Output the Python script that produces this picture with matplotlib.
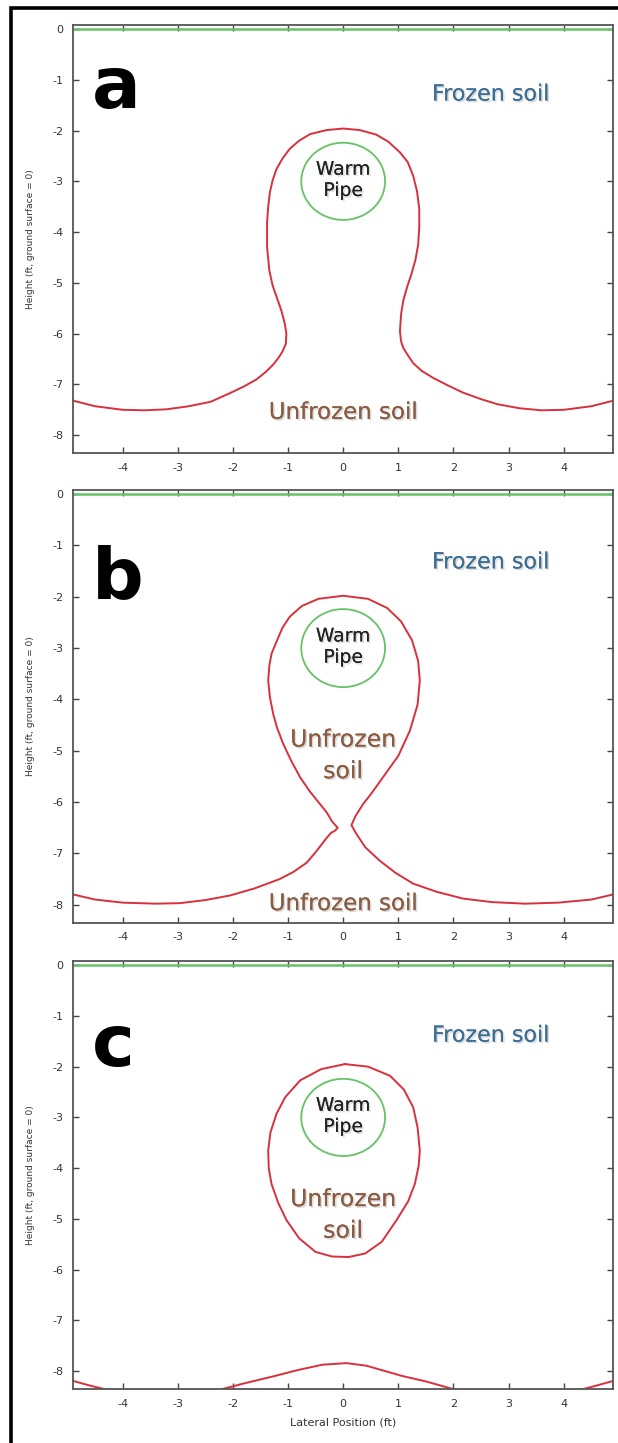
import matplotlib
matplotlib.use("Agg")
import matplotlib.pyplot as plt
import matplotlib.patheffects as pe
from matplotlib.patches import Circle, Rectangle

plt.rcParams["axes.unicode_minus"] = False


# Freeze front traced from the three model snapshots (ft)

freeze_a = [(-5.0, -7.29), (-4.9, -7.32), (-4.5, -7.43), (-4.0, -7.5), (-3.6, -7.51),
            (-3.2, -7.49), (-2.8, -7.43), (-2.4, -7.34), (-2.05, -7.17), (-1.8, -7.04),
            (-1.57, -6.9), (-1.4, -6.75), (-1.27, -6.61), (-1.17, -6.47), (-1.1, -6.35),
            (-1.04, -6.2), (-1.03, -6.0), (-1.06, -5.8), (-1.12, -5.55), (-1.2, -5.3),
            (-1.28, -5.05), (-1.34, -4.75), (-1.38, -4.3), (-1.38, -3.8), (-1.36, -3.5),
            (-1.33, -3.22), (-1.28, -2.98), (-1.21, -2.76), (-1.1, -2.55), (-0.97, -2.36),
            (-0.8, -2.2), (-0.6, -2.07), (-0.3, -1.99), (0.0, -1.96), (0.3, -1.99),
            (0.6, -2.08), (0.82, -2.22), (1.03, -2.43), (1.17, -2.62), (1.27, -2.89),
            (1.34, -3.2), (1.38, -3.54), (1.38, -3.9), (1.36, -4.25), (1.31, -4.55),
            (1.24, -4.82), (1.16, -5.08), (1.09, -5.35), (1.05, -5.62), (1.03, -5.95),
            (1.05, -6.15), (1.09, -6.28), (1.17, -6.42), (1.27, -6.58), (1.42, -6.73),
            (1.63, -6.87), (1.9, -7.02), (2.17, -7.16), (2.5, -7.29), (2.8, -7.39),
            (3.2, -7.47), (3.6, -7.51), (4.0, -7.5), (4.5, -7.43), (4.9, -7.32), (5.0, -7.29)]

freeze_b = [(-5.0, -7.78), (-4.9, -7.8), (-4.5, -7.9), (-4.0, -7.96), (-3.4, -7.98),
            (-2.96, -7.97), (-2.5, -7.91), (-2.05, -7.82), (-1.6, -7.68), (-1.15, -7.5),
            (-0.9, -7.36), (-0.66, -7.18), (-0.48, -6.95), (-0.3, -6.7), (-0.22, -6.6),
            (-0.15, -6.56), (-0.1, -6.5), (-0.15, -6.44), (-0.2, -6.38), (-0.3, -6.2),
            (-0.42, -6.04), (-0.6, -5.8), (-0.78, -5.52), (-0.95, -5.18), (-1.09, -4.86),
            (-1.2, -4.55), (-1.27, -4.28), (-1.33, -3.95), (-1.36, -3.63), (-1.34, -3.35),
            (-1.3, -3.11), (-1.2, -2.85), (-1.1, -2.6), (-0.97, -2.39), (-0.75, -2.18),
            (-0.45, -2.04), (0.0, -1.98), (0.45, -2.04), (0.8, -2.22), (1.05, -2.48),
            (1.25, -2.85), (1.36, -3.25), (1.39, -3.63), (1.35, -4.1), (1.21, -4.61),
            (1.0, -5.1), (0.72, -5.52), (0.5, -5.85), (0.36, -6.04), (0.22, -6.28),
            (0.15, -6.45), (0.24, -6.62), (0.4, -6.88), (0.66, -7.14), (0.95, -7.38),
            (1.27, -7.59), (1.7, -7.75), (2.17, -7.88), (2.7, -7.95), (3.3, -7.98),
            (3.9, -7.96), (4.5, -7.9), (4.9, -7.8), (5.0, -7.77)]

bulb_c = [(0.03, -1.95), (-0.4, -2.05), (-0.78, -2.27), (-1.05, -2.6), (-1.21, -2.93),
          (-1.32, -3.3), (-1.36, -3.65), (-1.35, -4.0), (-1.3, -4.31), (-1.18, -4.68),
          (-1.03, -5.02), (-0.8, -5.38), (-0.5, -5.65), (-0.2, -5.74), (0.1, -5.75),
          (0.4, -5.68), (0.7, -5.45), (0.97, -5.02), (1.18, -4.65), (1.3, -4.31),
          (1.37, -3.95), (1.39, -3.65), (1.35, -3.2), (1.27, -2.8), (1.1, -2.45),
          (0.85, -2.18), (0.45, -2.0), (0.03, -1.95)]

bottom_c = [(-5.0, -8.15), (-4.9, -8.19), (-4.6, -8.28), (-4.34, -8.35), (-4.0, -8.45),
            (-3.3, -8.55), (-2.6, -8.5), (-2.19, -8.35), (-1.8, -8.24), (-1.23, -8.09),
            (-0.8, -7.97), (-0.37, -7.87), (0.06, -7.84), (0.42, -7.89), (1.06, -8.09),
            (1.5, -8.2), (1.99, -8.35), (2.4, -8.48), (3.3, -8.55), (4.0, -8.45),
            (4.36, -8.35), (4.6, -8.28), (4.9, -8.19), (5.0, -8.15)]

panel_letters = ["a", "b", "c"]
letter_y = [-1.55, -2.03, -1.98]
frozen_y = [-1.29, -1.33, -1.39]
pipe_center = (0.0, -3.0)
pipe_radius = 0.76
ground_x = [-5.0, 5.0]
ground_y = [0.0, 0.0]
x_ticks = [-4, -3, -2, -1, 0, 1, 2, 3, 4]
y_ticks = [0, -1, -2, -3, -4, -5, -6, -7, -8]

red = "#d8303c"
green = "#66c266"
blue = "#3d6f96"
brown = "#8c5c42"
shadow = [pe.withSimplePatchShadow(offset=(1.2, -1.2), shadow_rgbFace="#999999", alpha=0.35), pe.Normal()]

fig = plt.figure(figsize=(6.18, 14.43), dpi=100)

# page border (top and left edges visible)
fig.add_artist(Rectangle((0.0186, -0.05), 1.2, 1.0448, transform=fig.transFigure,
                         fill=False, lw=2.6, color="black"))

boxes = [(0.1182, 0.6861, 0.8742, 0.2966),
         (0.1182, 0.3606, 0.8742, 0.2998),
         (0.1182, 0.0374, 0.8742, 0.2966)]

axes = [fig.add_axes(b) for b in boxes]

for i, ax in enumerate(axes):
    ax.plot(ground_x, ground_y, color=green, lw=1.8, clip_on=True)
    ax.add_patch(Circle(pipe_center, pipe_radius, fill=False, color=green, lw=1.3))

    ax.set_xlim(-4.9, 4.9)
    ax.set_ylim(-8.35, 0.08)
    ax.set_xticks(x_ticks)
    ax.set_yticks(y_ticks)
    ax.tick_params(direction="in", top=True, right=True, length=4, width=1,
                   color="#444444", labelsize=8, labelcolor="#333333", pad=7)
    for s in ax.spines.values():
        s.set_color("#555555")
        s.set_linewidth(1.3)
    ax.set_ylabel("Height (ft, ground surface = 0)", fontsize=6.5, color="#333333")
    ax.yaxis.set_label_coords(-0.07, 0.5)

    ax.text(-4.55, letter_y[i], panel_letters[i], fontsize=52, fontweight="heavy",
            color="black", ha="left", va="baseline")
    ax.text(2.68, frozen_y[i], "Frozen soil", fontsize=16, color=blue,
            ha="center", va="center", path_effects=shadow)
    ax.text(0.0, -2.97, "Warm\nPipe", fontsize=13.5, color="#222222",
            ha="center", va="center", linespacing=1.15, path_effects=shadow)

# panel a
ax = axes[0]
ax.plot([p[0] for p in freeze_a], [p[1] for p in freeze_a], color=red, lw=1.4)
ax.text(0.0, -7.55, "Unfrozen soil", fontsize=16.5, color=brown,
        ha="center", va="center", path_effects=shadow)

# panel b
ax = axes[1]
ax.plot([p[0] for p in freeze_b], [p[1] for p in freeze_b], color=red, lw=1.4)
ax.text(0.0, -5.09, "Unfrozen\nsoil", fontsize=17, color=brown,
        ha="center", va="center", linespacing=1.4, path_effects=shadow)
ax.text(0.0, -7.98, "Unfrozen soil", fontsize=16.5, color=brown,
        ha="center", va="center", path_effects=shadow)

# panel c
ax = axes[2]
ax.plot([p[0] for p in bulb_c], [p[1] for p in bulb_c], color=red, lw=1.4)
ax.plot([p[0] for p in bottom_c], [p[1] for p in bottom_c], color=red, lw=1.4)
ax.text(0.0, -4.92, "Unfrozen\nsoil", fontsize=17, color=brown,
        ha="center", va="center", linespacing=1.4, path_effects=shadow)
ax.set_xlabel("Lateral Position (ft)", fontsize=8, color="#333333", labelpad=6)

fig.savefig("out.png", dpi=100)
